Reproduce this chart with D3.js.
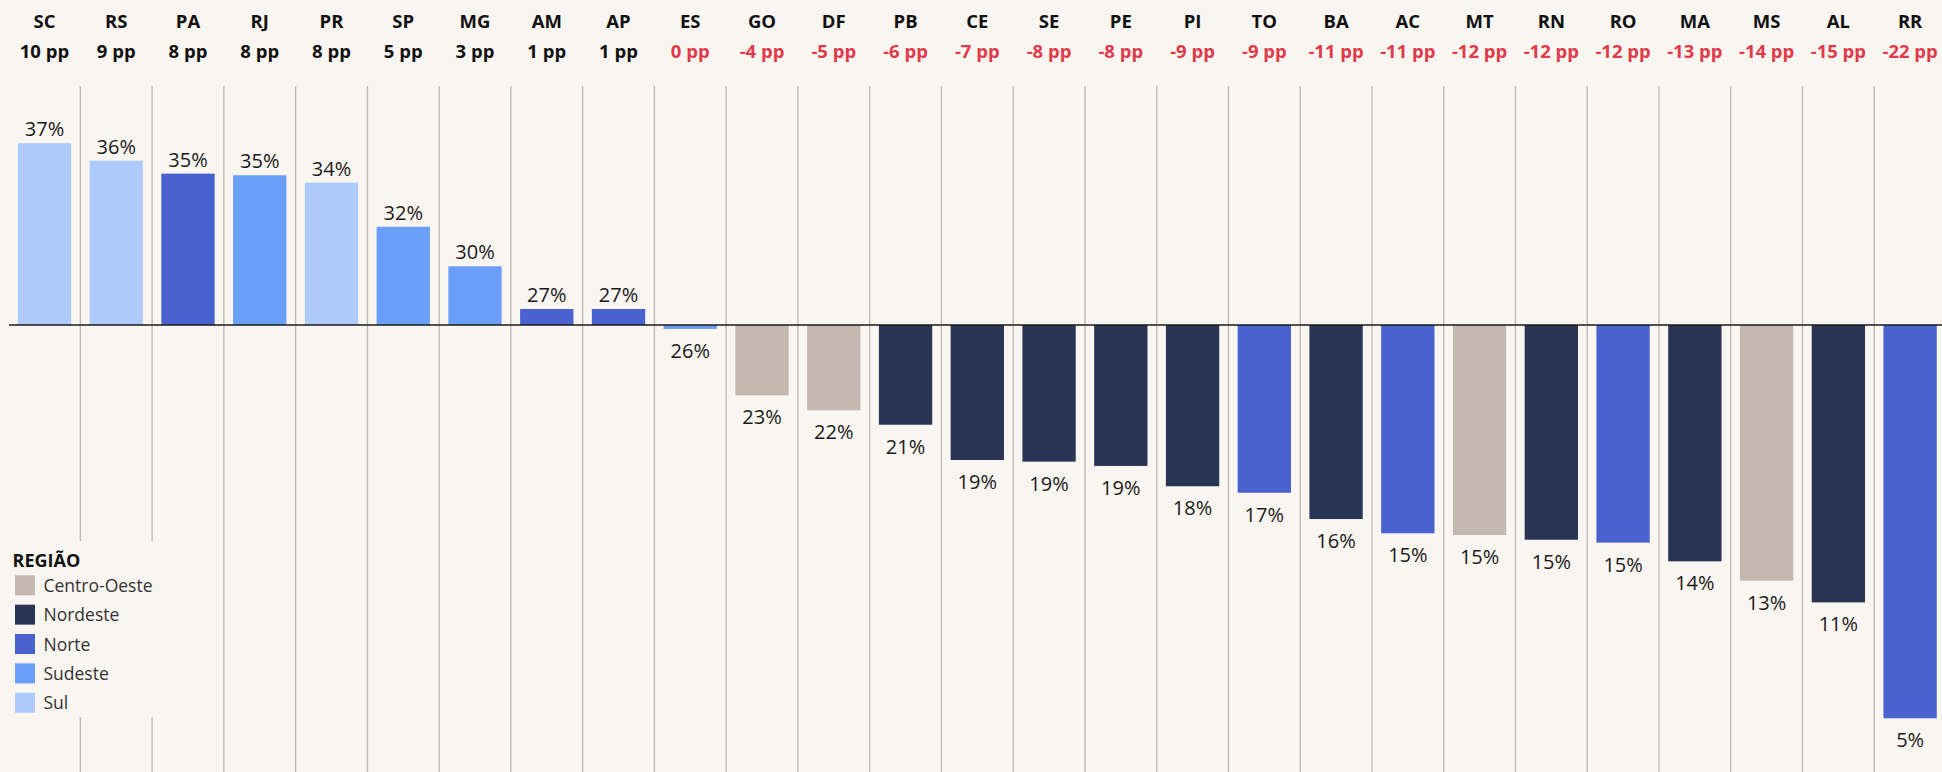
<!DOCTYPE html>
<html>
<head>
<meta charset="utf-8">
<script src="https://cdn.jsdelivr.net/npm/d3@7"></script>
<style>
  html, body { margin: 0; padding: 0; background: #f9f5f1; }
  svg { display: block; }
  text { font-family: "Open Sans", "Noto Sans", sans-serif; }
</style>
</head>
<body>
<svg id="chart" width="1942" height="772"></svg>
<script>
// ---- data ----
const states   = ["SC","RS","PA","RJ","PR","SP","MG","AM","AP","ES","GO","DF","PB","CE","SE","PE","PI","TO","BA","AC","MT","RN","RO","MA","MS","AL","RR"];
const regions  = ["Sul","Sul","Norte","Sudeste","Sul","Sudeste","Sudeste","Norte","Norte","Sudeste","Centro-Oeste","Centro-Oeste","Nordeste","Nordeste","Nordeste","Nordeste","Nordeste","Norte","Nordeste","Norte","Centro-Oeste","Nordeste","Norte","Nordeste","Centro-Oeste","Nordeste","Norte"];
// difference from national average, percentage points (bar length)
const diffs    = [10.1, 9.13, 8.41, 8.32, 7.91, 5.46, 3.26, 0.89, 0.89, -0.22, -3.91, -4.74, -5.54, -7.5, -7.59, -7.83, -8.96, -9.32, -10.78, -11.57, -11.67, -11.93, -12.09, -13.13, -14.2, -15.41, -21.85];
const ppLabels = [10, 9, 8, 8, 8, 5, 3, 1, 1, 0, -4, -5, -6, -7, -8, -8, -9, -9, -11, -11, -12, -12, -12, -13, -14, -15, -22];
const pctLabels= [37, 36, 35, 35, 34, 32, 30, 27, 27, 26, 23, 22, 21, 19, 19, 19, 18, 17, 16, 15, 15, 15, 15, 14, 13, 11, 5];
const legendRegions = ["Centro-Oeste","Nordeste","Norte","Sudeste","Sul"];
const regionColors  = ["#c5b8b0","#2a3454","#4a61d0","#6a9ff9","#afcbfb"];

// ---- chart ----
const svg = d3.select("#chart");
const W = 1942, H = 772;

svg.append("rect").attr("width", W).attr("height", H).attr("fill", "#f9f5f1");

const x = d3.scaleBand().domain(states).range([8.6, 1946]).paddingInner(0.257).paddingOuter(0.1285);
const y = d3.scaleLinear().domain([0, 10]).range([325, 145]);
const color = d3.scaleOrdinal().domain(legendRegions).range(regionColors);
const step = x.step();

const data = states.map((s, i) => ({ s, region: regions[i], diff: diffs[i], pp: ppLabels[i], pct: pctLabels[i] }));

// column separators (broken by legend for the first two)
const sepX = d3.range(1, states.length).map(i => x(states[i]) + x.bandwidth() / 2 - step / 2);
const sepG = svg.append("g").attr("stroke", "#c3bab4").attr("stroke-width", 1.4);
sepX.forEach((sx, i) => {
  if (i < 2) {
    sepG.append("line").attr("x1", sx).attr("x2", sx).attr("y1", 86).attr("y2", 541);
    sepG.append("line").attr("x1", sx).attr("x2", sx).attr("y1", 717).attr("y2", H);
  } else {
    sepG.append("line").attr("x1", sx).attr("x2", sx).attr("y1", 86).attr("y2", H);
  }
});

// bars
svg.append("g").selectAll("rect").data(data).join("rect")
  .attr("x", d => x(d.s))
  .attr("width", x.bandwidth())
  .attr("y", d => Math.min(y(d.diff), y(0)))
  .attr("height", d => Math.abs(y(d.diff) - y(0)))
  .attr("fill", d => color(d.region));

// baseline
svg.append("line").attr("x1", 9).attr("x2", W).attr("y1", y(0)).attr("y2", y(0))
  .attr("stroke", "#1a1a1a").attr("stroke-width", 1.6);

// value labels
svg.append("g").selectAll("text").data(data).join("text")
  .attr("x", d => x(d.s) + x.bandwidth() / 2)
  .attr("y", d => d.diff >= 0 ? y(d.diff) - 7 : y(d.diff) + 29)
  .attr("text-anchor", "middle")
  .attr("font-size", 20)
  .attr("fill", "#1a1a1a")
  .text(d => d.pct + "%");

// header: state abbreviations
svg.append("g").selectAll("text").data(data).join("text")
  .attr("x", d => x(d.s) + x.bandwidth() / 2)
  .attr("y", 27.5)
  .attr("text-anchor", "middle")
  .attr("font-size", 18.5)
  .attr("font-weight", 700)
  .attr("fill", "#111")
  .text(d => d.s);

// header: pp differences
svg.append("g").selectAll("text").data(data).join("text")
  .attr("x", d => x(d.s) + x.bandwidth() / 2)
  .attr("y", 57.5)
  .attr("text-anchor", "middle")
  .attr("font-size", 18.5)
  .attr("font-weight", 700)
  .attr("fill", d => d.pp > 0 ? "#111" : "#e03a4b")
  .text(d => d.pp + " pp");

// legend
const lg = svg.append("g");
lg.append("text").attr("x", 12.5).attr("y", 566.5).attr("font-size", 18).attr("font-weight", 700)
  .attr("fill", "#111").text("REGIÃO");
const items = lg.selectAll("g.item").data(legendRegions).join("g").attr("class", "item")
  .attr("transform", (d, i) => `translate(15, ${575.3 + i * 29.35})`);
items.append("rect").attr("width", 20).attr("height", 20).attr("fill", d => color(d));
items.append("text").attr("x", 28.5).attr("y", 16.5).attr("font-size", 17.5).attr("fill", "#333").text(d => d);
</script>
</body>
</html>
